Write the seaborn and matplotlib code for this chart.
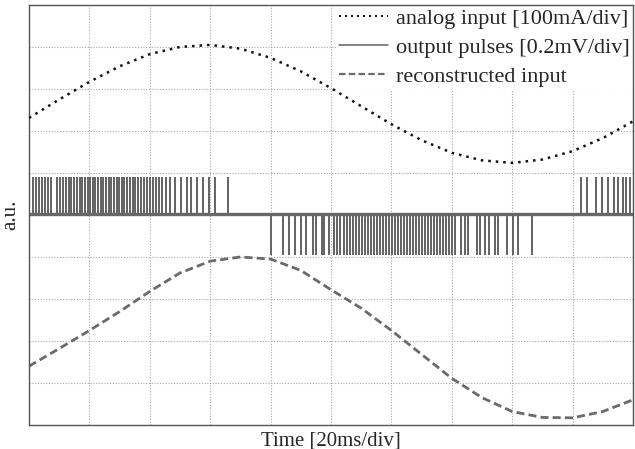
import matplotlib
matplotlib.use("Agg")
import matplotlib.pyplot as plt
import pandas as pd
import seaborn as sns

# time axis in divisions (20 ms/div), values in divisions
t_grid = [0, 0.5, 1, 1.5, 2, 2.5, 3, 3.5, 4, 4.5, 5, 5.5, 6, 6.5, 7, 7.5, 8, 8.5, 9, 9.5, 10]
analog = [7.31, 7.75, 8.17, 8.54, 8.83, 9.0, 9.05, 8.96, 8.74, 8.42, 8.02, 7.59, 7.16,
          6.78, 6.48, 6.30, 6.24, 6.32, 6.52, 6.83, 7.23]
recon = [1.40, 1.82, 2.25, 2.70, 3.18, 3.62, 3.90, 4.00, 3.95, 3.68, 3.22, 2.78, 2.25,
         1.68, 1.11, 0.65, 0.32, 0.18, 0.17, 0.32, 0.60]

# pulse times (div)
up_pulses = [0.07, 0.12, 0.17, 0.22, 0.27, 0.32, 0.37, 0.46, 0.51, 0.56, 0.61, 0.66, 0.70,
             0.75, 0.80, 0.84, 0.88, 0.93, 0.97, 1.01, 1.06, 1.10, 1.14, 1.19, 1.23, 1.28,
             1.32, 1.36, 1.41, 1.45, 1.49, 1.54, 1.58, 1.62, 1.67, 1.72, 1.76, 1.81, 1.85,
             1.90, 1.95, 2.00, 2.05, 2.10, 2.15, 2.20, 2.26, 2.33, 2.42, 2.52, 2.61, 2.68,
             2.78, 2.88, 2.98, 3.08, 3.29,
             9.14, 9.23, 9.39, 9.48, 9.59, 9.69, 9.75, 9.84, 9.89, 9.95]
down_pulses = [4.01, 4.20, 4.31, 4.40, 4.50, 4.59, 4.70, 4.75, 4.85, 4.89, 4.96, 5.05, 5.10,
               5.15, 5.21, 5.27, 5.32, 5.36, 5.41, 5.46, 5.51, 5.56, 5.61, 5.66, 5.71, 5.76,
               5.81, 5.86, 5.91, 5.96, 6.01, 6.06, 6.11, 6.16, 6.21, 6.26, 6.31, 6.36, 6.41,
               6.46, 6.51, 6.56, 6.61, 6.66, 6.71, 6.76, 6.81, 6.85, 6.90, 6.95, 7.00, 7.05,
               7.15, 7.21, 7.27, 7.41, 7.47, 7.55, 7.61, 7.72, 7.77, 7.91, 8.02, 8.10, 8.32]
baseline = 5.02
up_peak = 5.87
down_peak = 4.07

# pulse trace as one path
events = sorted([(t, up_peak) for t in up_pulses] + [(t, down_peak) for t in down_pulses])
px, py = [0.0], [baseline]
for t, peak in events:
    px += [t, t, t]
    py += [baseline, peak, baseline]
px.append(10.0)
py.append(baseline)
pulses_df = pd.DataFrame({"t": px, "v": py})
curves_df = pd.DataFrame({"t": t_grid, "analog": analog, "recon": recon,
                          "base": [baseline] * len(t_grid)})

sns.set_theme(style="white")
plt.rcParams['font.family'] = ['Liberation Serif', 'DejaVu Serif']

fig = plt.figure(figsize=(6.35, 4.49), dpi=100)
ax = fig.add_axes([0.0457, 0.0535, 0.9512, 0.9354])

sns.lineplot(data=curves_df, x="t", y="analog", ax=ax, color="#111111", lw=1.8,
             label="analog input [100mA/div]")
ax.lines[-1].set_dashes((1, 2.0))
ax.lines[-1].set_zorder(6)  # curve passes over the legend box like in the original
# noisy baseline drawn a bit thicker under the pulses
sns.lineplot(data=curves_df, x="t", y="base", ax=ax, color="#6a6a6a", lw=2.4)
sns.lineplot(data=pulses_df, x="t", y="v", ax=ax, sort=False, estimator=None,
             color="#666666", lw=1.4, label="output pulses [0.2mV/div]")
sns.lineplot(data=curves_df, x="t", y="recon", ax=ax, color="#6a6a6a", lw=2.0,
             label="reconstructed input")
ax.lines[-1].set_dashes((2.9, 1.5))

ax.set_xlim(0, 10)
ax.set_ylim(0, 10)
ax.set_xticks(range(11))
ax.set_yticks(range(11))
ax.set_xticklabels([])
ax.set_yticklabels([])
ax.tick_params(length=0)
ax.grid(True, color="#a8a8a8", lw=0.8, linestyle=(0, (1, 1.5)))
ax.set_axisbelow(True)
for s in ax.spines.values():
    s.set_color("#555555")
    s.set_linewidth(1.0)

ax.set_xlabel("Time [20ms/div]", fontsize=15, labelpad=1)
ax.set_ylabel("a.u.", fontsize=15, labelpad=3)

handles, labels = ax.get_legend_handles_labels()
leg = ax.legend(handles, labels, loc="upper right", fontsize=16.0, frameon=True,
                fancybox=False, framealpha=1, edgecolor="none", handlelength=2.2,
                handletextpad=0.35, labelspacing=0.38, borderaxespad=0.0, borderpad=0.15)
leg.set_zorder(2.4)  # keep the axes frame visible on top of the legend box
for h in leg.get_lines():
    h.set_linewidth(h.get_linewidth() * 0.8)

fig.savefig("out.png", dpi=100)
